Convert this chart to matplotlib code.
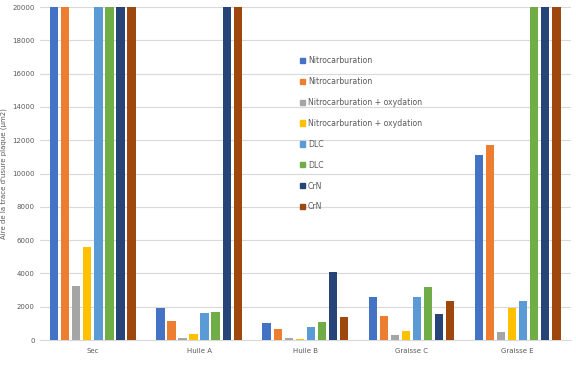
import numpy as np
import matplotlib
matplotlib.use("Agg")
import matplotlib.pyplot as plt
from matplotlib.patches import Patch

categories = ["Sec", "Huile A", "Huile B", "Graisse C", "Graisse E"]
series_names = ["Nitrocarburation", "Nitrocarburation",
                "Nitrocarburation + oxydation", "Nitrocarburation + oxydation",
                "DLC", "DLC", "CrN", "CrN"]
colors = ["#4472C4", "#ED7D31", "#A5A5A5", "#FFC000",
          "#5B9BD5", "#70AD47", "#264478", "#9E480E"]

nitro_1 = [20000, 1950, 1020, 2560, 11130]
nitro_2 = [20000, 1130, 640, 1460, 11700]
nitro_ox_1 = [3230, 150, 150, 300, 460]
nitro_ox_2 = [5600, 350, 80, 560, 1920]
dlc_1 = [20000, 1650, 780, 2580, 2340]
dlc_2 = [20000, 1680, 1080, 3200, 20000]
crn_1 = [20000, 20000, 4080, 1540, 20000]
crn_2 = [20000, 20000, 1400, 2320, 20000]

series = [nitro_1, nitro_2, nitro_ox_1, nitro_ox_2, dlc_1, dlc_2, crn_1, crn_2]

fig = plt.figure(figsize=(5.76, 3.72), dpi=100)
ax = fig.add_axes([0.069, 0.086, 0.922, 0.895])

x = np.arange(len(categories))
step = 0.104
width = 0.078
for i, vals in enumerate(series):
    ax.bar(x + (i - 3.5) * step, vals, width, color=colors[i], zorder=3)

ax.set_xlim(-0.5, len(categories) - 0.5)
ax.set_ylim(0, 20000)
ax.set_yticks(np.arange(0, 20001, 2000))
ax.set_xticks(x)
ax.set_xticklabels(categories)
ax.tick_params(axis="both", length=0, labelsize=5, labelcolor="#595959")
ax.tick_params(axis="x", pad=6)
ax.grid(axis="y", color="#D9D9D9", linewidth=0.8, zorder=0)
for s in ["left", "right", "top"]:
    ax.spines[s].set_visible(False)
ax.spines["bottom"].set_color("#D9D9D9")
ax.set_ylabel("Aire de la trace d'usure plaque (µm2)", fontsize=5, color="#595959")

handles = [Patch(color=c) for c in colors]
leg = fig.legend(handles, series_names, loc="upper left", bbox_to_anchor=(0.508, 0.868),
                 frameon=False, fontsize=5.6, handlelength=0.65, handleheight=0.65,
                 handletextpad=0.4, labelspacing=1.53)
for t in leg.get_texts():
    t.set_color("#595959")

fig.savefig("out.png", dpi=100)
